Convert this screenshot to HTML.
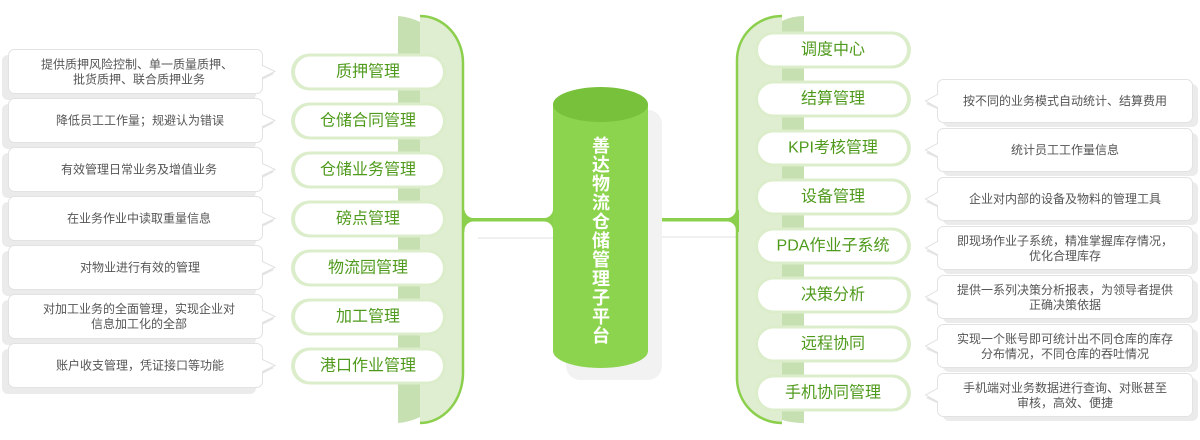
<!DOCTYPE html>
<html><head><meta charset="utf-8"><style>
html,body{margin:0;padding:0;background:#fff;width:1200px;height:440px;overflow:hidden}
svg{display:block}
</style></head><body>
<svg width="1200" height="440" viewBox="0 0 1200 440" xmlns="http://www.w3.org/2000/svg" font-family="'Liberation Sans','Noto Sans CJK SC',sans-serif">
<defs>
<path id="lb" d="M6,0 H248 A6,6 0 0 1 254,6 V16 L266.5,22 L254,28 V38 A6,6 0 0 1 248,44 H6 A6,6 0 0 1 0,38 V6 A6,6 0 0 1 6,0 Z" fill="#fff" stroke="#e2e2e2" stroke-width="1"/>
<path id="rb" d="M6,0 H249 A6,6 0 0 1 255,6 V37 A6,6 0 0 1 249,43 H6 A6,6 0 0 1 0,37 V28 L-12,21.5 L0,15 V6 A6,6 0 0 1 6,0 Z" fill="#fff" stroke="#e2e2e2" stroke-width="1"/>
<g id="lshadow"><rect x="2" y="6" width="254" height="45" rx="6" fill="#ebebeb"/><polygon points="262,18 274,25 262,31" fill="#e4e4e4"/></g>
<g id="rshadow"><rect x="943" y="5" width="255" height="43" rx="6" fill="#ebebeb"/><polygon points="937,18 926,25 937,30" fill="#e4e4e4"/></g>
<g id="lpill"><rect x="291" y="-18.5" width="155" height="37" rx="18.5" fill="#dcedcb"/><rect x="295" y="-15.5" width="148" height="31" rx="15.5" fill="#fff"/></g>
<g id="rpill"><rect x="755" y="-18.5" width="156" height="37" rx="18.5" fill="#dcedcb"/><rect x="758" y="-15.5" width="149" height="31" rx="15.5" fill="#fff"/></g>
</defs>

<!-- left shadows -->
<use href="#lshadow" transform="translate(0,49)"/>
<use href="#lshadow" transform="translate(0,98)"/>
<use href="#lshadow" transform="translate(0,147)"/>
<use href="#lshadow" transform="translate(0,196)"/>
<use href="#lshadow" transform="translate(0,245)"/>
<use href="#lshadow" transform="translate(0,294)"/>
<use href="#lshadow" transform="translate(0,343)"/>
<!-- left boxes -->
<use href="#lb" transform="translate(8.5,49.5)"/>
<use href="#lb" transform="translate(8.5,98.5)"/>
<use href="#lb" transform="translate(8.5,147.5)"/>
<use href="#lb" transform="translate(8.5,196.5)"/>
<use href="#lb" transform="translate(8.5,245.5)"/>
<use href="#lb" transform="translate(8.5,294.5)"/>
<use href="#lb" transform="translate(8.5,343.5)"/>

<!-- right shadows -->
<use href="#rshadow" transform="translate(0,79)"/>
<use href="#rshadow" transform="translate(0,128)"/>
<use href="#rshadow" transform="translate(0,177)"/>
<use href="#rshadow" transform="translate(0,226)"/>
<use href="#rshadow" transform="translate(0,275)"/>
<use href="#rshadow" transform="translate(0,324)"/>
<use href="#rshadow" transform="translate(0,373)"/>
<!-- right boxes -->
<use href="#rb" transform="translate(937.5,79.5)"/>
<use href="#rb" transform="translate(937.5,128.5)"/>
<use href="#rb" transform="translate(937.5,177.5)"/>
<use href="#rb" transform="translate(937.5,226.5)"/>
<use href="#rb" transform="translate(937.5,275.5)"/>
<use href="#rb" transform="translate(937.5,324.5)"/>
<use href="#rb" transform="translate(937.5,373.5)"/>

<!-- left bracket -->
<path d="M398,16 Q410,17 420,22 L420,417 Q410,422 398,423 Z" fill="#c6e0b1"/>
<path d="M420,16 A43,47 0 0 1 463,63 L463,373 A43,50 0 0 1 420,423 Z" fill="#dfeed1"/>
<!-- right bracket -->
<path d="M804,16 Q792,16 782,21 L782,420 Q792,423 804,423 Z" fill="#c6e0b1"/>
<path d="M782,16 A45,44 0 0 0 737,60 L737,378 A45,45 0 0 0 782,423 Z" fill="#dfeed1"/>

<!-- connectors -->
<rect x="462" y="210" width="93" height="22" fill="#8bd04d"/>
<rect x="464.5" y="140" width="88.5" height="78" rx="9" fill="#fff"/>
<rect x="464.5" y="221.5" width="88.5" height="70" rx="9" fill="#fff"/>
<rect x="646" y="210" width="93" height="22" fill="#8bd04d"/>
<rect x="648" y="140" width="88" height="78" rx="9" fill="#fff"/>
<rect x="648" y="221.5" width="88" height="70" rx="9" fill="#fff"/>
<line x1="478" y1="238" x2="553" y2="238" stroke="#f0f0f0" stroke-width="2"/>
<line x1="662" y1="237" x2="736" y2="237" stroke="#f0f0f0" stroke-width="2"/>

<!-- bracket strokes -->
<path d="M420,16 A43,47 0 0 1 463,63 L463,373 A43,50 0 0 1 420,423" fill="none" stroke="#8bcf4c" stroke-width="2.5"/>
<path d="M782,16 A45,44 0 0 0 737,60 L737,378 A45,45 0 0 0 782,423" fill="none" stroke="#8bcf4c" stroke-width="2.5"/>

<!-- cylinder -->
<rect x="566" y="110" width="96" height="270" rx="14" fill="#f2f2f2"/>
<rect x="553" y="104.5" width="95" height="247" fill="#8cd44e"/>
<ellipse cx="600.5" cy="351" rx="47.5" ry="17" fill="#8cd44e"/>
<ellipse cx="600.5" cy="104.5" rx="47.5" ry="17.5" fill="#78c13a"/>
<g fill="#fff" font-size="18" font-weight="700" text-anchor="middle" dominant-baseline="central">
<text x="601" y="146">善</text>
<text x="601" y="165">达</text>
<text x="601" y="184">物</text>
<text x="601" y="203">流</text>
<text x="601" y="222">仓</text>
<text x="601" y="241">储</text>
<text x="601" y="260">管</text>
<text x="601" y="279">理</text>
<text x="601" y="298">子</text>
<text x="601" y="317">平</text>
<text x="601" y="336">台</text>
</g>

<!-- left pills -->
<use href="#lpill" transform="translate(0,72)"/>
<use href="#lpill" transform="translate(0,121)"/>
<use href="#lpill" transform="translate(0,170)"/>
<use href="#lpill" transform="translate(0,219)"/>
<use href="#lpill" transform="translate(0,268)"/>
<use href="#lpill" transform="translate(0,317)"/>
<use href="#lpill" transform="translate(0,366)"/>
<!-- right pills -->
<use href="#rpill" transform="translate(0,50)"/>
<use href="#rpill" transform="translate(0,99)"/>
<use href="#rpill" transform="translate(0,148)"/>
<use href="#rpill" transform="translate(0,197)"/>
<use href="#rpill" transform="translate(0,246)"/>
<use href="#rpill" transform="translate(0,295)"/>
<use href="#rpill" transform="translate(0,344)"/>
<use href="#rpill" transform="translate(0,393)"/>

<g fill="#4f9a1c" font-size="16" text-anchor="middle" dominant-baseline="central">
<text x="368" y="72">质押管理</text>
<text x="368" y="121">仓储合同管理</text>
<text x="368" y="170">仓储业务管理</text>
<text x="368" y="219">磅点管理</text>
<text x="368" y="268">物流园管理</text>
<text x="368" y="317">加工管理</text>
<text x="368" y="366">港口作业管理</text>
<text x="833" y="50">调度中心</text>
<text x="833" y="99">结算管理</text>
<text x="833" y="148">KPI考核管理</text>
<text x="833" y="197">设备管理</text>
<text x="833" y="246">PDA作业子系统</text>
<text x="833" y="295">决策分析</text>
<text x="833" y="344">远程协同</text>
<text x="833" y="393">手机协同管理</text>
</g>

<g fill="#555" font-size="12" text-anchor="middle" dominant-baseline="central">
<text x="137" y="64.5">提供质押风险控制、单一质量质押、</text>
<text x="139" y="79.5">批货质押、联合质押业务</text>
<text x="140" y="120.5">降低员工工作量；规避认为错误</text>
<text x="139" y="169.5">有效管理日常业务及增值业务</text>
<text x="139" y="218.5">在业务作业中读取重量信息</text>
<text x="140" y="267.5">对物业进行有效的管理</text>
<text x="139" y="309">对加工业务的全面管理，实现企业对</text>
<text x="139" y="324">信息加工化的全部</text>
<text x="140" y="365.5">账户收支管理，凭证接口等功能</text>

<text x="1065" y="101">按不同的业务模式自动统计、结算费用</text>
<text x="1065" y="150">统计员工工作量信息</text>
<text x="1065" y="199">企业对内部的设备及物料的管理工具</text>
<text x="1065" y="241">即现场作业子系统，精准掌握库存情况，</text>
<text x="1065" y="256">优化合理库存</text>
<text x="1065" y="290">提供一系列决策分析报表，为领导者提供</text>
<text x="1065" y="305">正确决策依据</text>
<text x="1065" y="339">实现一个账号即可统计出不同仓库的库存</text>
<text x="1065" y="354">分布情况，不同仓库的吞吐情况</text>
<text x="1065" y="388">手机端对业务数据进行查询、对账甚至</text>
<text x="1065" y="403">审核，高效、便捷</text>
</g>
</svg>
</body></html>
